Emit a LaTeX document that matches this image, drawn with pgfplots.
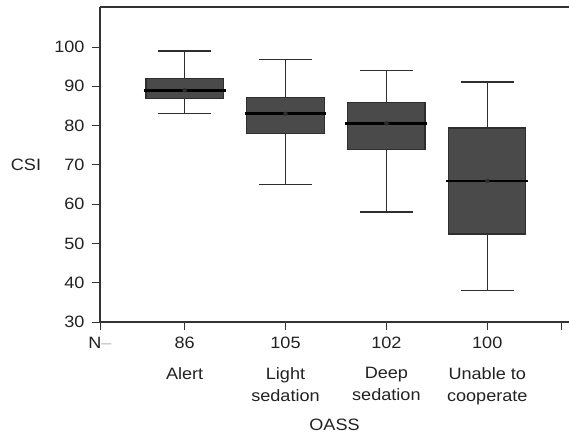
\documentclass[border=0pt]{standalone}
\usepackage{fontspec}
\setmainfont{Liberation Sans}[FakeStretch=1.1]
\usepackage{pgfplots}
\usepackage{pgfplotstable}
\pgfplotsset{compat=1.18}
\definecolor{boxfill}{HTML}{4A4A4A}
\definecolor{boxline}{HTML}{2E2E2E}
\definecolor{axisgray}{HTML}{333333}
\definecolor{txt}{HTML}{222222}

% CSI summary per OASS level: whiskers, quartiles, median
\pgfplotstableread{
x  lw   q1    med   q3    uw
1  83   87    89    92    99
2  65   78    83    87.2  96.9
3  58   74    80.6  85.9  94
4  38   52.4  65.9  79.4  91.1
}\csidata

\begin{document}
\begin{tikzpicture}[font=\fontsize{16.5}{22}\selectfont]
\useasboundingbox (-100bp,-115bp) rectangle (469bp,322bp);
\begin{axis}[
  scale only axis,
  width=469bp, height=315bp,
  xmin=0.1615, xmax=4.81,
  ymin=30, ymax=110.2,
  axis x line*=bottom, axis y line*=left,
  axis line style={-, axisgray, line width=1.1pt},
  tick style={axisgray, line width=1pt},
  tick align=outside,
  major tick length=8bp,
  xtick={0.1615,1,2,3,4,4.74},
  xticklabels={N\textcolor{gray!55}{–},86,105,102,100,},
  ytick={30,40,...,100},
  /pgf/number format/assume math mode=true,
  tick label style={text=txt},
  xticklabel style={yshift=-4bp},
  yticklabel style={xshift=-4bp},
  median/.style={black, line width=2.8pt, line cap=butt},
]
% whiskers with caps (drawn first, the boxes cover the inner part)
\addplot[only marks, mark=none, boxline,
  error bars/.cd, y dir=both, y explicit, error mark=|,
  error mark options={mark size=26.5bp, line width=1.3pt, boxline},
  error bar style={line width=1.3pt, boxline}]
  table[x=x, y=med,
        y error plus expr=\thisrow{uw}-\thisrow{med},
        y error minus expr=\thisrow{med}-\thisrow{lw}] {\csidata};
% interquartile boxes
\addplot[fill=boxfill, draw=boxline, line width=1.1pt]
  coordinates {(0.6175,87) (1.3825,87) (1.3825,92) (0.6175,92)} -- cycle;
\addplot[fill=boxfill, draw=boxline, line width=1.1pt]
  coordinates {(1.6175,78) (2.3825,78) (2.3825,87.2) (1.6175,87.2)} -- cycle;
\addplot[fill=boxfill, draw=boxline, line width=1.1pt]
  coordinates {(2.6175,74) (3.3825,74) (3.3825,85.9) (2.6175,85.9)} -- cycle;
\addplot[fill=boxfill, draw=boxline, line width=1.1pt]
  coordinates {(3.6175,52.4) (4.3825,52.4) (4.3825,79.4) (3.6175,79.4)} -- cycle;
% medians, slightly wider than the boxes
\addplot[median] coordinates {(0.594,89) (1.406,89)};
\addplot[median] coordinates {(1.594,83) (2.406,83)};
\addplot[median] coordinates {(2.594,80.6) (3.406,80.6)};
\addplot[median] coordinates {(3.594,65.9) (4.406,65.9)};
\coordinate (c1) at (axis cs:1,30);
\coordinate (c2) at (axis cs:2,30);
\coordinate (c3) at (axis cs:3,30);
\coordinate (c4) at (axis cs:4,30);
\end{axis}
\draw[axisgray, line width=1.1pt] (0,315bp) -- (469bp,315bp);
\node[text=txt, anchor=north, inner sep=0, align=center] at (c1) [yshift=-45bp] {Alert};
\node[text=txt, anchor=north, inner sep=0, align=center] at (c2) [yshift=-45bp] {Light\\sedation};
\node[text=txt, anchor=north, inner sep=0, align=center] at (c3) [yshift=-45bp] {Deep\\sedation};
\node[text=txt, anchor=north, inner sep=0, align=center] at (c4) [yshift=-45bp] {Unable to\\cooperate};
\node[text=txt] at (234.5bp,-103bp) {OASS};
\node[text=txt] at (-74bp,157bp) {CSI};
\end{tikzpicture}
\end{document}
